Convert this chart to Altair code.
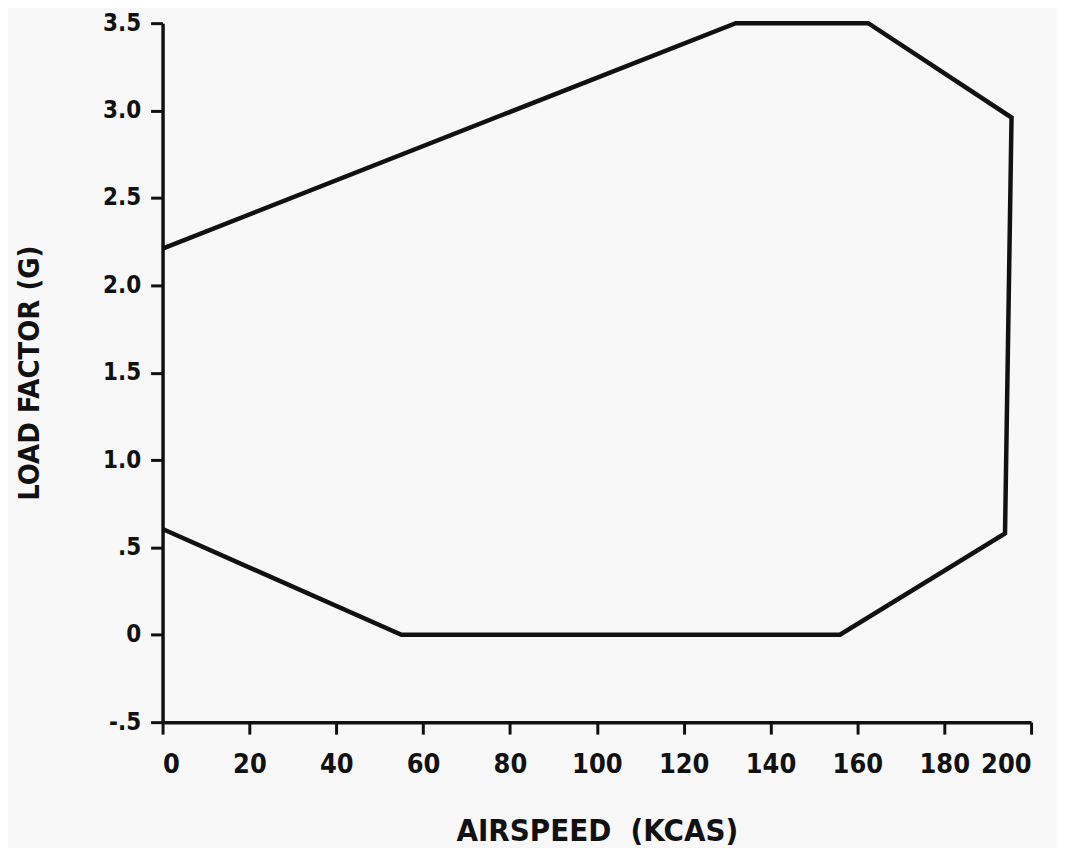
import altair as alt
import pandas as pd

# Flight envelope vertices (airspeed in KCAS, load factor in G), in drawing order
airspeed = [0, 55, 156, 194, 195.5, 162.5, 132, 0]
load_factor = [0.605, 0, 0, 0.58, 2.96, 3.5, 3.5, 2.21]

x_ticks = [0, 20, 40, 60, 80, 100, 120, 140, 160, 180, 200]
y_ticks = [-0.5, 0, 0.5, 1.0, 1.5, 2.0, 2.5, 3.0, 3.5]

df = pd.DataFrame({"airspeed": airspeed, "load": load_factor, "order": list(range(len(airspeed)))})

FONT = "DejaVu Sans Condensed"

chart = alt.Chart(df).mark_line(color="#111111", strokeWidth=4.5, strokeJoin="miter").encode(
    x=alt.X("airspeed:Q",
            scale=alt.Scale(domain=[0, 200], nice=False, zero=False),
            axis=alt.Axis(values=x_ticks, title="AIRSPEED\u00a0\u00a0(KCAS)", grid=False,
                          tickSize=12, tickWidth=3, domainWidth=3.5,
                          domainColor="#111111", tickColor="#111111",
                          labelFont=FONT, labelFontSize=27, labelFontWeight="bold",
                          labelColor="#111111", labelPadding=17,
                          titleFont=FONT, titleFontSize=31, titleFontWeight="bold",
                          titleColor="#111111", titlePadding=40)),
    y=alt.Y("load:Q",
            scale=alt.Scale(domain=[-0.5, 3.5], nice=False, zero=False),
            axis=alt.Axis(values=y_ticks, title="LOAD FACTOR (G)", grid=False,
                          tickSize=12, tickWidth=3, domainWidth=3.5,
                          domainColor="#111111", tickColor="#111111",
                          labelExpr="datum.value == 0 ? '0' : datum.value == 0.5 ? '.5' : datum.value == -0.5 ? '-.5' : format(datum.value, '.1f')",
                          labelFont=FONT, labelFontSize=24, labelFontWeight="bold",
                          labelColor="#111111", labelPadding=10,
                          titleFont=FONT, titleFontSize=29, titleFontWeight="bold",
                          titleColor="#111111", titlePadding=58)),
    order="order:O",
).properties(
    width=871, height=701,
    padding={"left": 7, "top": 2, "right": 24, "bottom": 0},
    background="#f8f8f8",
).configure_view(stroke=None)

chart.save("out.html", embed_options={"renderer": "svg", "actions": False})
